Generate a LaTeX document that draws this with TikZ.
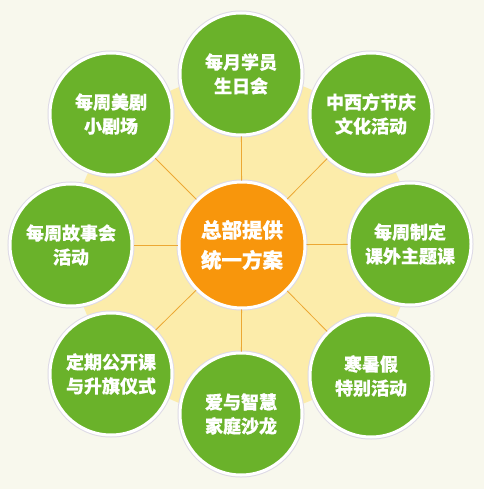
\documentclass[tikz,border=0pt]{standalone}
\usepackage{fontspec}
\newfontfamily\cjk[FakeBold=0.45]{Noto Sans CJK SC}
\definecolor{paper}{RGB}{248,248,237}
\definecolor{plate}{RGB}{252,236,170}
\definecolor{leaf}{RGB}{106,178,42}
\definecolor{sun}{RGB}{248,150,12}
\definecolor{spokeline}{RGB}{236,168,52}
\definecolor{rim}{RGB}{222,218,230}
\begin{document}
\begin{tikzpicture}[x=1pt,y=-1pt,inner sep=0pt,outer sep=1.5pt,
topic/.style={circle,fill=leaf,draw=white,line width=3pt,preaction={draw=rim,line width=5pt},minimum size=122pt,text=white,align=center,font=\cjk\fontsize{18}{24}\selectfont\bfseries},
hub/.style={topic,fill=sun,minimum size=126pt,font=\cjk\fontsize{20.5}{30}\selectfont\bfseries},
spoke/.style={draw=spokeline,line width=0.8pt}]
\fill[paper] (0,0) rectangle (484,489);
\useasboundingbox (0,0) rectangle (484,489);
\fill[plate] (242,245) circle (170);
\draw (242,245) node[hub] (hub) {总部提供\\统一方案};
\draw (241,74) node[topic] (birthday) {每月学员\\生日会};
\draw (371,114) node[topic] (festival) {中西方节庆\\文化活动};
\draw (410,244) node[topic] (theme) {每周制定\\课外主题课};
\draw (371,376) node[topic] (holiday) {寒暑假\\特别活动};
\draw (241,414) node[topic] (salon) {爱与智慧\\家庭沙龙};
\draw (111,374) node[topic] (flag) {定期公开课\\与升旗仪式};
\draw (71,245) node[topic] (story) {每周故事会\\活动};
\draw (111,114) node[topic] (drama) {每周美剧\\小剧场};
\foreach \t in {birthday,festival,theme,holiday,salon,flag,story,drama}
  \draw[spoke] (hub) -- (\t);
\end{tikzpicture}
\end{document}
